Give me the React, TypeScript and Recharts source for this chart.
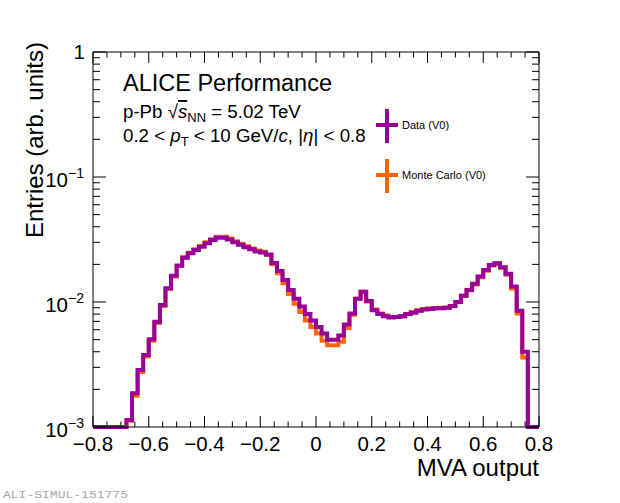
import React from 'react';
import { LineChart, Line, XAxis, YAxis } from 'recharts';

// histogram binning: 80 bins of 0.02 from -0.8 to 0.8
const BIN_LOW = -0.8;
const BIN_WIDTH = 0.02;

// normalised entries per bin (empty bins sit on the 1e-3 floor)
const dataV0 = [
  0.001, 0.001, 0.001, 0.001, 0.001, 0.001,
  0.00114, 0.00186, 0.00286, 0.00377, 0.00503, 0.00696, 0.00946, 0.0129, 0.0162, 0.0195,
  0.0226, 0.0245, 0.0261, 0.0277, 0.0295, 0.0313, 0.0327, 0.0326, 0.0316, 0.03,
  0.0287, 0.0274, 0.0264, 0.0254, 0.0249, 0.024, 0.0205, 0.0177, 0.015, 0.0125,
  0.0106, 0.0092, 0.008, 0.0071, 0.0063, 0.0056, 0.005, 0.005, 0.0054, 0.0066,
  0.0081, 0.0106, 0.0121, 0.0102, 0.0086, 0.008, 0.0077, 0.0075, 0.0076, 0.0077,
  0.008, 0.0082, 0.0085, 0.0087, 0.0088, 0.0089, 0.0089, 0.009, 0.0093, 0.01,
  0.0112, 0.0125, 0.014, 0.016, 0.018, 0.0198, 0.0204, 0.019, 0.0168, 0.0133,
  0.0085, 0.004, 0.001, 0.001,
];

const monteCarloV0 = [
  0.001, 0.001, 0.001, 0.001, 0.001, 0.001,
  0.00112, 0.00178, 0.00275, 0.00366, 0.0049, 0.0068, 0.0093, 0.0127, 0.016, 0.0196,
  0.0228, 0.0248, 0.0264, 0.0281, 0.03, 0.0318, 0.0333, 0.0332, 0.0322, 0.0306,
  0.0292, 0.0279, 0.0268, 0.0258, 0.0252, 0.0238, 0.02, 0.017, 0.0141, 0.0116,
  0.0097, 0.0083, 0.0071, 0.0063, 0.0056, 0.0049, 0.0045, 0.0045, 0.0048, 0.0062,
  0.0079, 0.0106, 0.0121, 0.0101, 0.0087, 0.0081, 0.0078, 0.0076, 0.0076, 0.0077,
  0.008, 0.0083, 0.0086, 0.0088, 0.0089, 0.0089, 0.009, 0.009, 0.0093, 0.01,
  0.0112, 0.0124, 0.0138, 0.0158, 0.0178, 0.0196, 0.0202, 0.0188, 0.0165, 0.0128,
  0.0081, 0.0036, 0.001, 0.001,
];

const xTicks = [
  -0.8, -0.75, -0.7, -0.65, -0.6, -0.55, -0.5, -0.45, -0.4, -0.35, -0.3, -0.25, -0.2, -0.15, -0.1, -0.05,
  0, 0.05, 0.1, 0.15, 0.2, 0.25, 0.3, 0.35, 0.4, 0.45, 0.5, 0.55, 0.6, 0.65, 0.7, 0.75, 0.8,
];

const yTicks = [
  0.001, 0.002, 0.003, 0.004, 0.005, 0.006, 0.007, 0.008, 0.009,
  0.01, 0.02, 0.03, 0.04, 0.05, 0.06, 0.07, 0.08, 0.09,
  0.1, 0.2, 0.3, 0.4, 0.5, 0.6, 0.7, 0.8, 0.9, 1,
];

const yExponents: Record<string, string> = { '1': '', '0.1': '−1', '0.01': '−2', '0.001': '−3' };

// step table: one row per bin low edge, plus the closing edge at 0.8
const rows = dataV0.map((v, i) => ({
  x: Math.round((BIN_LOW + i * BIN_WIDTH) * 100) / 100,
  data: v,
  mc: monteCarloV0[i],
}));
rows.push({ x: 0.8, data: dataV0[dataV0.length - 1], mc: monteCarloV0[monteCarloV0.length - 1] });

const FONT = '"Liberation Sans", Arial, Helvetica, sans-serif';
const PURPLE = '#990099';
const ORANGE = '#ff6600';
const TICK_FONT = 20.5;

const isMajorX = (v: number) => Math.round(v * 100) % 20 === 0;
const isMajorY = (v: number) => yExponents[String(v)] !== undefined;

const fmtX = (v: number) => {
  const r = Math.round(v * 10) / 10;
  if (r === 0) return '0';
  return r < 0 ? `−${Math.abs(r)}` : String(r);
};

const BottomTick = ({ x, y, payload }: any) => {
  const major = isMajorX(payload.value);
  return (
    <g>
      <line x1={x} x2={x} y1={y} y2={y - (major ? 11 : 5.5)} stroke="#000" strokeWidth={1} />
      {major && (
        <text x={x} y={y + 24} textAnchor="middle" fontFamily={FONT} fontSize={TICK_FONT} fill="#000">
          {fmtX(payload.value)}
        </text>
      )}
    </g>
  );
};

const TopTick = ({ x, y, payload }: any) => (
  <line x1={x} x2={x} y1={y} y2={y + (isMajorX(payload.value) ? 11 : 5.5)} stroke="#000" strokeWidth={1} />
);

const LeftTick = ({ x, y, payload }: any) => {
  const major = isMajorY(payload.value);
  const exp = yExponents[String(payload.value)];
  return (
    <g>
      <line x1={x} x2={x + (major ? 13 : 7)} y1={y} y2={y} stroke="#000" strokeWidth={1} />
      {major && (
        exp === '' ? (
          <text x={x - 8} y={y + 7} textAnchor="end" fontFamily={FONT} fontSize={TICK_FONT} fill="#000">1</text>
        ) : (
          <text x={x - 9} y={y + 10} textAnchor="end" fontFamily={FONT} fontSize={TICK_FONT} fill="#000">
            10<tspan fontSize={14} dy={-9}>{exp}</tspan>
          </text>
        )
      )}
    </g>
  );
};

const RightTick = ({ x, y, payload }: any) => (
  <line x1={x} x2={x - (isMajorY(payload.value) ? 13 : 7)} y1={y} y2={y} stroke="#000" strokeWidth={1} />
);

const axisLine = { stroke: '#000', strokeWidth: 1 };

export default function App() {
  return (
    <div style={{ position: 'absolute', left: 0, top: 0, width: 620, height: 503, background: '#fff' }}>
      <LineChart width={620} height={503} data={rows} margin={{ top: 51, right: 80, bottom: 46, left: 33 }}>
        <XAxis
          xAxisId="bottom"
          dataKey="x"
          type="number"
          domain={[-0.8, 0.8]}
          ticks={xTicks}
          interval={0}
          height={30}
          tickSize={0}
          tickMargin={0}
          tickLine={false}
          axisLine={axisLine}
          tick={(p: any) => <BottomTick {...p} />}
        />
        <XAxis
          xAxisId="top"
          orientation="top"
          dataKey="x"
          type="number"
          domain={[-0.8, 0.8]}
          ticks={xTicks}
          interval={0}
          height={1}
          tickSize={0}
          tickMargin={0}
          tickLine={false}
          axisLine={axisLine}
          tick={(p: any) => <TopTick {...p} />}
        />
        <YAxis
          yAxisId="left"
          type="number"
          scale="log"
          domain={[0.001, 1]}
          ticks={yTicks}
          interval={0}
          width={60}
          tickSize={0}
          tickMargin={0}
          tickLine={false}
          axisLine={axisLine}
          tick={(p: any) => <LeftTick {...p} />}
        />
        <YAxis
          yAxisId="right"
          orientation="right"
          type="number"
          scale="log"
          domain={[0.001, 1]}
          ticks={yTicks}
          interval={0}
          width={1}
          tickSize={0}
          tickMargin={0}
          tickLine={false}
          axisLine={axisLine}
          tick={(p: any) => <RightTick {...p} />}
        />
        <Line
          xAxisId="bottom"
          yAxisId="left"
          dataKey="mc"
          type="stepAfter"
          stroke={ORANGE}
          strokeWidth={4}
          dot={false}
          isAnimationActive={false}
        />
        <Line
          xAxisId="top"
          yAxisId="right"
          dataKey="data"
          type="stepAfter"
          stroke={PURPLE}
          strokeWidth={4}
          dot={false}
          isAnimationActive={false}
        />
      </LineChart>

      <svg
        width={620}
        height={503}
        style={{ position: 'absolute', left: 0, top: 0, pointerEvents: 'none' }}
        fontFamily={FONT}
      >
        <text x={123} y={91} fontSize={23.5} fill="#000">ALICE Performance</text>
        <text x={123} y={118} fontSize={18.7} fill="#000">
          p-Pb √<tspan fontStyle="italic" style={{ textDecoration: 'overline' }}>s</tspan>
          <tspan fontSize={13} dy={4}>NN</tspan>
          <tspan dy={-4}> = 5.02 TeV</tspan>
        </text>
        <text x={123} y={142} fontSize={18.7} fill="#000">
          0.2 &lt; <tspan fontStyle="italic">p</tspan>
          <tspan fontSize={13} dy={4}>T</tspan>
          <tspan dy={-4}> &lt; 10 GeV/</tspan>
          <tspan fontStyle="italic">c</tspan>, |<tspan fontStyle="italic">η</tspan>| &lt; 0.8
        </text>

        <line x1={376} x2={398} y1={125} y2={125} stroke={PURPLE} strokeWidth={4} />
        <line x1={387} x2={387} y1={109} y2={143} stroke={PURPLE} strokeWidth={4} />
        <text x={402} y={129} fontSize={11} fill="#000">Data (V0)</text>

        <line x1={376} x2={398} y1={175} y2={175} stroke={ORANGE} strokeWidth={4} />
        <line x1={387} x2={387} y1={159} y2={193} stroke={ORANGE} strokeWidth={4} />
        <text x={402} y={179} fontSize={11} fill="#000">Monte Carlo (V0)</text>

        <text x={-42} y={43} transform="rotate(-90)" textAnchor="end" fontSize={24} fill="#000">
          Entries (arb. units)
        </text>
        <text x={539} y={476} textAnchor="end" fontSize={24} fill="#000">MVA output</text>

        <text
          x={3}
          y={498}
          fontFamily='"Liberation Mono", "DejaVu Sans Mono", monospace'
          fontSize={11.5}
          fill="#a8a8a8"
          textLength={125}
          lengthAdjust="spacingAndGlyphs"
        >
          ALI-SIMUL-151775
        </text>
      </svg>
    </div>
  );
}
